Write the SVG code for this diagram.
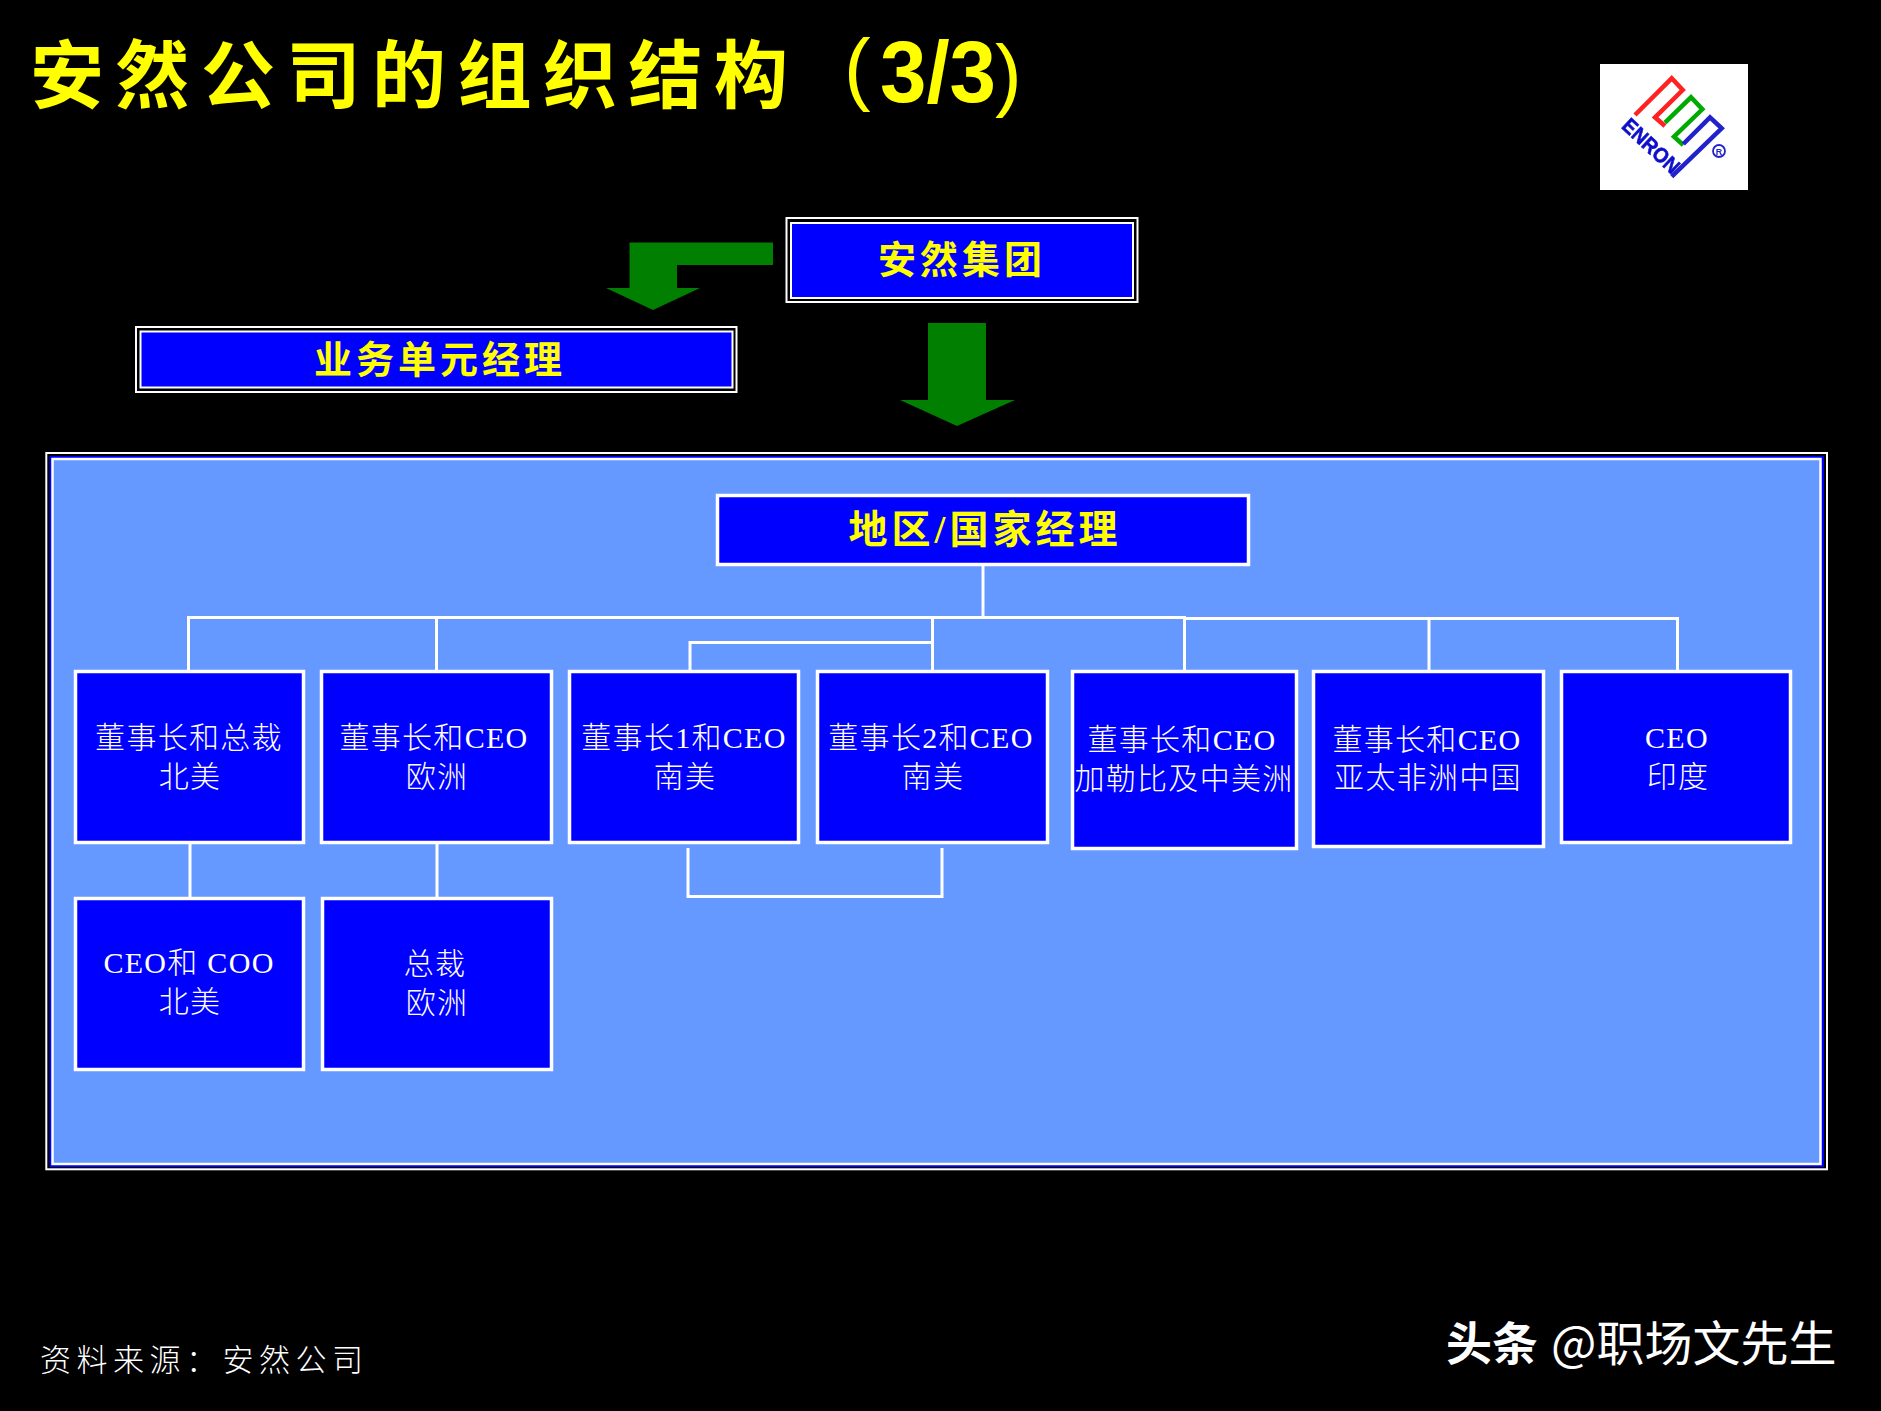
<svg xmlns="http://www.w3.org/2000/svg" width="1881" height="1411" viewBox="0 0 1881 1411">
<style>
text{font-family:"Liberation Serif","Noto Sans CJK SC",sans-serif;text-anchor:middle}
.frame{fill:none;stroke:#fff;stroke-width:2}
.hbox{fill:#00f;stroke:#fff;stroke-width:2}
.box{fill:#00f;stroke:#fff;stroke-width:3.5}
.lbl{fill:#fff;font-size:30px;letter-spacing:1.3px;font-weight:300}
.head{fill:#ff0;font-size:38px;font-weight:700;letter-spacing:4px}
.arrow{fill:#007f00}
.conn{fill:none;stroke:#fff;stroke-width:3}
.sans{font-family:"Liberation Sans",sans-serif}
</style>
<defs><filter id="soft" x="-5%" y="-5%" width="110%" height="110%"><feGaussianBlur stdDeviation="0.6"/></filter></defs>
<rect width="1881" height="1411" fill="#000"/>
<text id="title" x="30" y="102" fill="#ff0" font-size="74" font-weight="700" letter-spacing="11.500" style="text-anchor:start;font-family:'Noto Sans CJK SC',sans-serif">安然公司的组织结构<tspan class="sans" x="844" y="95" font-size="80" font-weight="400" letter-spacing="0">(</tspan><tspan class="sans" x="880" y="102" font-size="88" letter-spacing="0" textLength="116" lengthAdjust="spacingAndGlyphs">3/3</tspan><tspan class="sans" x="995" y="101" font-size="80" font-weight="400" letter-spacing="0">)</tspan></text>
<g id="logo">
<rect x="1600" y="64" width="148" height="126" fill="#fff"/>
<g filter="url(#soft)">
<polyline points="1635,115 1671.7,78.3 1682.7,90 1655,117.3 1665,126" fill="none" stroke="#f22" stroke-width="4.500"/>
<polyline points="1665,122.7 1691,97.3 1702.3,109.3 1674,136.7 1683.3,145" fill="none" stroke="#0a0" stroke-width="4.500"/>
<polyline points="1683.3,144 1710,117.3 1721.700,128.300 1671.7,176.7" fill="none" stroke="#22c" stroke-width="4.500"/>
<text class="sans" transform="translate(1646.200,151.200) rotate(43)" fill="#11c" stroke="#11c" stroke-width="0.600" font-size="21" font-weight="700" textLength="70" lengthAdjust="spacingAndGlyphs">ENRON</text>
<circle cx="1719" cy="151" r="6" fill="none" stroke="#22c" stroke-width="1.800"/>
<text class="sans" x="1719" y="154.500" fill="#22c" font-size="9" font-weight="700">R</text>
</g>
</g>
<g id="arrows">
<path class="arrow" d="M773,242.500V265H677V288H700L653,310L606,288H629.500V242.500Z"/>
<path class="arrow" d="M928,323H986V400H1015L957,426L900,400H928Z"/>
</g>
<g id="node-group">
<rect class="frame" x="786.500" y="218" width="351" height="84"/>
<rect class="hbox" x="791" y="223" width="342" height="75"/>
<text class="head" x="962" y="273">安然集团</text>
</g>
<g id="node-bu">
<rect class="frame" x="136" y="327" width="600.500" height="65"/>
<rect class="hbox" x="140.500" y="331.500" width="592" height="56"/>
<text class="head" x="440" y="373">业务单元经理</text>
</g>
<g id="panel">
<rect class="frame" x="46.300" y="453" width="1780.700" height="716.300"/>
<rect x="49.500" y="456" width="1774.500" height="711" fill="#00f"/>
<rect x="52.500" y="459" width="1768" height="705" fill="#69f" stroke="#fff" stroke-width="2.500"/>
</g>
<g id="connectors" class="conn">
<path d="M983,566V617M188.500,670V617.500H1184.500V670M1186,618.500H1677.500V670M436.500,617.500V670M932.500,618V670M690,670V642.500H932M1429,618.500V670M190,844V897M437,844V897M688,848V896.500H942V848"/>
</g>
<g id="node-region">
<rect class="box" x="717.500" y="495.500" width="531" height="69" stroke-width="3"/>
<text class="head" x="985" y="543" style="font-size:39px">地区/国家经理</text>
</g>
<g id="node-a"><rect class="box" x="75.500" y="671.500" width="228" height="171"/><text class="lbl" x="189" y="748">董事长和总裁</text><text class="lbl" x="190" y="787">北美</text></g>
<g id="node-b"><rect class="box" x="321.500" y="671.500" width="230" height="171"/><text class="lbl" x="434" y="748">董事长和CEO</text><text class="lbl" x="437" y="787">欧洲</text></g>
<g id="node-c"><rect class="box" x="569.500" y="671.500" width="229" height="171"/><text class="lbl" x="684" y="748">董事长1和CEO</text><text class="lbl" x="685" y="787">南美</text></g>
<g id="node-d"><rect class="box" x="817.500" y="671.500" width="230" height="171"/><text class="lbl" x="931" y="748">董事长2和CEO</text><text class="lbl" x="933" y="787">南美</text></g>
<g id="node-e"><rect class="box" x="1072.500" y="671.500" width="224" height="177"/><text class="lbl" x="1182" y="750">董事长和CEO</text><text class="lbl" x="1184" y="789">加勒比及中美洲</text></g>
<g id="node-f"><rect class="box" x="1313.500" y="671.500" width="230" height="175"/><text class="lbl" x="1427" y="750">董事长和CEO</text><text class="lbl" x="1428" y="788">亚太非洲中国</text></g>
<g id="node-g"><rect class="box" x="1561.500" y="671.500" width="229" height="171"/><text class="lbl" x="1677" y="748">CEO</text><text class="lbl" x="1678" y="787">印度</text></g>
<g id="node-a2"><rect class="box" x="75.500" y="898.500" width="228" height="171"/><text class="lbl" x="189" y="973">CEO和 COO</text><text class="lbl" x="190" y="1012">北美</text></g>
<g id="node-b2"><rect class="box" x="322.500" y="898.500" width="229" height="171"/><text class="lbl" x="435" y="974">总裁</text><text class="lbl" x="437" y="1013">欧洲</text></g>
<text id="source" x="40" y="1371" fill="#fff" font-size="31" letter-spacing="5.500" font-weight="300" style="text-anchor:start">资料来源：安然公司</text>
<g id="watermark" fill="#fff">
<text x="1492" y="1360" font-size="46" font-weight="700" style="font-family:'Noto Sans CJK SC',sans-serif">头条</text>
<text x="1551" y="1361" font-size="48" style="text-anchor:start;font-family:'Noto Sans CJK SC',sans-serif">@职场文先生</text>
</g>
</svg>
